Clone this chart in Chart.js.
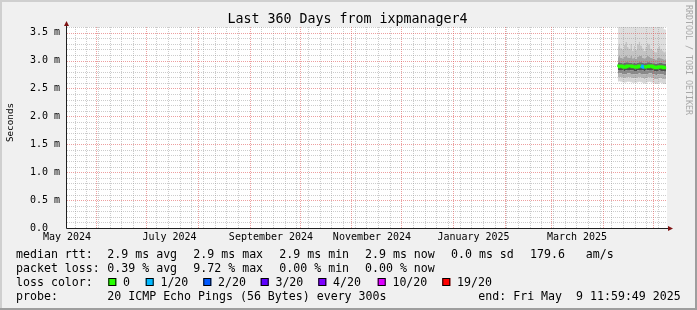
<!DOCTYPE html>
<html>
<head>
<meta charset="utf-8">
<script src="https://cdn.jsdelivr.net/npm/chart.js@4.4.1/dist/chart.umd.min.js"></script>
<style>
  html, body { margin: 0; padding: 0; background: #f0f0f0; }
  canvas { display: block; }
</style>
</head>
<body>
<canvas id="smoke" width="697" height="310"></canvas>
<script>
'use strict';

// x axis is "days since graph start" (Tue May 14 2024 11:59:49), 360 days wide
const START = Date.UTC(2024, 4, 14, 11, 59, 49);
const DAY = 86400000;
const SPAN_DAYS = 360;

const title = 'Last 360 Days from ixpmanager4';
const xLabelDays = [0, 61.5, 122.4, 183, 243.9, 306];
const xLabels = ['May 2024', 'July 2024', 'September 2024', 'November 2024', 'January 2025', 'March 2025'];
const yTicks = [0, 0.5, 1, 1.5, 2, 2.5, 3, 3.5];

// one bucket per day, centre of bucket (days since start)
const smokeDays = [330.5, 331.5, 332.5, 333.5, 334.5, 335.5, 336.5, 337.5, 338.5, 339.5,
  340.5, 341.5, 342.5, 343.5, 344.5, 345.5, 346.5, 347.5, 348.5, 349.5,
  350.5, 351.5, 352.5, 353.5, 354.5, 355.5, 356.5, 357.5, 358.5, 359.5];

// ping rtt percentiles, ms
const pingMax = [3.75, 3.80, 3.72, 3.70, 3.78, 3.82, 3.74, 3.71, 3.79, 3.69, 3.76, 3.70, 3.78, 3.83, 3.77,
  3.72, 3.68, 3.75, 3.80, 3.78, 3.71, 3.69, 3.66, 3.65, 3.72, 3.74, 3.68, 3.64, 3.56, 3.55];
const pingHi3 = [3.25, 3.30, 3.22, 3.20, 3.28, 3.33, 3.24, 3.21, 3.30, 3.18, 3.26, 3.19, 3.29, 3.34, 3.27,
  3.22, 3.17, 3.25, 3.31, 3.28, 3.21, 3.19, 3.16, 3.15, 3.22, 3.26, 3.20, 3.18, 3.15, 3.17];
const pingHi2 = [3.06, 3.08, 3.05, 3.04, 3.07, 3.09, 3.06, 3.05, 3.08, 3.04, 3.06, 3.03, 3.07, 3.09, 3.08,
  3.05, 3.04, 3.06, 3.08, 3.07, 3.05, 3.04, 3.03, 3.02, 3.05, 3.06, 3.04, 3.03, 3.02, 3.03];
const pingHi1 = [2.96, 2.97, 2.96, 2.95, 2.96, 2.97, 2.97, 2.96, 2.96, 2.95, 2.96, 2.95, 2.96, 2.97, 2.97,
  2.96, 2.95, 2.96, 2.97, 2.97, 2.96, 2.95, 2.95, 2.94, 2.95, 2.96, 2.96, 2.95, 2.94, 2.94];
const median = [2.89, 2.90, 2.90, 2.89, 2.88, 2.89, 2.90, 2.90, 2.90, 2.89, 2.89, 2.88, 2.89, 2.90, 2.90,
  2.89, 2.88, 2.89, 2.89, 2.90, 2.90, 2.89, 2.88, 2.87, 2.88, 2.89, 2.89, 2.88, 2.87, 2.87];
const pingLo1 = [2.82, 2.83, 2.83, 2.82, 2.81, 2.82, 2.83, 2.83, 2.82, 2.82, 2.81, 2.81, 2.82, 2.83, 2.83,
  2.82, 2.81, 2.82, 2.82, 2.83, 2.83, 2.82, 2.81, 2.80, 2.81, 2.82, 2.81, 2.81, 2.80, 2.80];
const pingLo2 = [2.76, 2.77, 2.77, 2.76, 2.75, 2.76, 2.77, 2.77, 2.76, 2.76, 2.75, 2.75, 2.76, 2.77, 2.76,
  2.76, 2.75, 2.76, 2.76, 2.77, 2.77, 2.76, 2.75, 2.74, 2.75, 2.76, 2.75, 2.75, 2.74, 2.74];
const pingLo3 = [2.69, 2.70, 2.70, 2.69, 2.68, 2.69, 2.70, 2.70, 2.69, 2.68, 2.68, 2.68, 2.69, 2.70, 2.69,
  2.68, 2.67, 2.68, 2.69, 2.70, 2.69, 2.68, 2.67, 2.66, 2.67, 2.68, 2.68, 2.67, 2.66, 2.66];
const pingMin = [2.62, 2.63, 2.62, 2.61, 2.60, 2.61, 2.62, 2.62, 2.61, 2.60, 2.60, 2.60, 2.61, 2.62, 2.61,
  2.60, 2.59, 2.60, 2.61, 2.62, 2.61, 2.60, 2.59, 2.58, 2.59, 2.60, 2.60, 2.59, 2.58, 2.58];
// lost pings out of 20 per bucket
const lossCount = [0, 0, 0, 0, 0, 0, 0, 0, 0, 0, 0, 0, 0, 0, 1, 1, 0, 0, 0, 0, 0, 0, 0, 0, 0, 0, 0, 0, 0, 0];

const lossSteps = ['0', '1/20', '2/20', '3/20', '4/20', '10/20', '19/20'];
const lossLimits = [0, 1, 2, 3, 4, 10, 19];
const lossColors = ['#26ff00', '#00b8ff', '#0059ff', '#5e00ff', '#7e00ff', '#dd00ff', '#ff0000'];

const rttStats = ['2.9 ms avg', '2.9 ms max', '2.9 ms min', '2.9 ms now', '0.0 ms sd', '179.6   am/s'];
const lossStats = ['0.39 % avg', '9.72 % max', '0.00 % min', '0.00 % now'];
const probeText = '20 ICMP Echo Pings (56 Bytes) every 300s';
const endText = 'end: Fri May  9 11:59:49 2025';

// grey shades from the outer smoke band inwards
const shadeLow = ['#d6d6d6', '#b4b4b4', '#888888', '#505050'];
const shadeHigh = ['#dedede', '#c4c4c4', '#a2a2a2', '#6a6a6a'];

const MONO = '"DejaVu Sans Mono", monospace';

function pts(arr) { return arr.map((v, i) => ({ x: smokeDays[i], y: v })); }
function lossColor(n) {
  let c = lossColors[0];
  lossLimits.forEach((l, i) => { if (n >= l) c = lossColors[i]; });
  return c;
}
function band(arr, color) {
  return { data: pts(arr), fill: '-1', backgroundColor: color, borderWidth: 0, pointRadius: 0, stepped: 'middle' };
}
function dayOf(y, m, d) { return (Date.UTC(y, m, d) - START) / DAY; }

const rrdFrame = {
  id: 'rrdFrame',
  beforeDraw(chart) {
    const { ctx, chartArea: a, width, height } = chart;
    ctx.save();
    ctx.fillStyle = '#f0f0f0';
    ctx.fillRect(0, 0, width, height);
    ctx.fillStyle = '#cfcfcf';
    ctx.fillRect(0, 0, width, 2);
    ctx.fillRect(0, 0, 2, height);
    ctx.fillStyle = '#9e9e9e';
    ctx.fillRect(width - 2, 0, 2, height);
    ctx.fillRect(0, height - 2, width, 2);
    ctx.fillStyle = '#ffffff';
    ctx.fillRect(a.left, a.top, a.right - a.left, a.bottom - a.top);
    ctx.restore();
  },
  beforeDatasetsDraw(chart) {
    // grid sits between the smoke and the median line
    const { ctx, chartArea: a, scales: { x, y } } = chart;
    const months = [];
    for (let k = 0; k < 13; k++) months.push(dayOf(2024, 5 + k, 1));
    const weeks = [];
    for (let d = dayOf(2024, 4, 19); d <= SPAN_DAYS; d += 7) weeks.push(d);
    ctx.save();
    ctx.lineWidth = 1;
    ctx.setLineDash([1, 1]);
    const vline = (d, col) => {
      if (d < 0 || d > SPAN_DAYS) return;
      const px = Math.round(x.getPixelForValue(d)) + 0.5;
      ctx.strokeStyle = col;
      ctx.beginPath(); ctx.moveTo(px, a.bottom); ctx.lineTo(px, a.top); ctx.stroke();
    };
    const hline = (v, col) => {
      const py = Math.round(y.getPixelForValue(v)) + 0.5;
      ctx.strokeStyle = col;
      ctx.beginPath(); ctx.moveTo(a.left, py); ctx.lineTo(a.right, py); ctx.stroke();
    };
    const minorCol = 'rgba(143,143,143,0.45)';
    const majorCol = 'rgba(222,80,80,0.55)';
    weeks.forEach(d => { if (!months.some(m => Math.abs(m - d) < 1)) vline(d, minorCol); });
    for (let i = 1; i <= 36; i++) if (i % 5) hline(i / 10, minorCol);
    months.forEach(d => vline(d, majorCol));
    yTicks.forEach(v => { if (v > 0) hline(v, majorCol); });
    ctx.restore();
  },
  afterDraw(chart) {
    const { ctx, chartArea: a, width } = chart;
    ctx.save();
    // axes + arrows
    ctx.strokeStyle = '#202020';
    ctx.lineWidth = 1;
    ctx.beginPath();
    ctx.moveTo(a.left - 0.5, a.bottom + 0.5); ctx.lineTo(a.right + 3, a.bottom + 0.5);
    ctx.moveTo(a.left - 0.5, a.bottom + 0.5); ctx.lineTo(a.left - 0.5, a.top - 3);
    ctx.stroke();
    ctx.fillStyle = '#7f1414';
    ctx.beginPath();
    ctx.moveTo(a.left - 0.5, a.top - 6); ctx.lineTo(a.left - 3, a.top - 1); ctx.lineTo(a.left + 2, a.top - 1);
    ctx.closePath(); ctx.fill();
    ctx.beginPath();
    ctx.moveTo(a.right + 6, a.bottom + 0.5); ctx.lineTo(a.right + 1, a.bottom - 2); ctx.lineTo(a.right + 1, a.bottom + 3);
    ctx.closePath(); ctx.fill();

    ctx.fillStyle = '#000';
    ctx.textBaseline = 'alphabetic';
    ctx.textAlign = 'center';
    ctx.font = '13.3px ' + MONO;
    ctx.fillText(title, 347.5, 22.5);

    // y axis title
    ctx.save();
    ctx.translate(10.5, 122.5);
    ctx.rotate(-Math.PI / 2);
    ctx.font = '9.3px ' + MONO;
    ctx.textBaseline = 'middle';
    ctx.fillText('Seconds', 0, 0);
    ctx.restore();

    // watermark
    ctx.save();
    ctx.translate(width - 9, 5);
    ctx.rotate(Math.PI / 2);
    ctx.font = '8.3px ' + MONO;
    ctx.fillStyle = '#a8a8a8';
    ctx.textAlign = 'left';
    ctx.textBaseline = 'middle';
    ctx.fillText('RRDTOOL / TOBI OETIKER', 0, 0);
    ctx.restore();

    // legend block
    ctx.font = '11.6px ' + MONO;
    ctx.textAlign = 'left';
    const cols = [107.3, 193.3, 279.3, 365, 451, 530];
    const rows = [258.4, 272.2, 286, 299.8];
    ctx.fillText('median rtt:', 16, rows[0]);
    rttStats.forEach((s, i) => ctx.fillText(s, cols[i], rows[0]));
    ctx.fillText('packet loss:', 16, rows[1]);
    lossStats.forEach((s, i) => ctx.fillText(s, cols[i], rows[1]));
    ctx.fillText('loss color:', 16, rows[2]);
    const boxX = [108.3, 145.7, 203.3, 260.7, 318.3, 377.7, 442.3];
    lossSteps.forEach((s, i) => {
      ctx.fillStyle = lossColors[i];
      ctx.fillRect(boxX[i], 278, 8, 8);
      ctx.strokeStyle = '#000';
      ctx.strokeRect(boxX[i] + 0.5, 278.5, 7, 7);
      ctx.fillStyle = '#000';
      ctx.fillText(s, boxX[i] + 14.7, rows[2]);
    });
    ctx.fillText('probe:', 16, rows[3]);
    ctx.fillText(probeText, cols[0], rows[3]);
    ctx.fillText(endText, 478.3, rows[3]);
    ctx.restore();
  }
};

new Chart(document.getElementById('smoke'), {
  type: 'line',
  data: {
    datasets: [
      {
        data: pts(median), fill: false, borderWidth: 3, pointRadius: 0, stepped: 'middle',
        borderColor: lossColors[0], borderCapStyle: 'butt',
        segment: { borderColor: c => lossColor(lossCount[c.p0DataIndex]) }
      },
      { data: pts(pingMin), fill: false, borderWidth: 0, pointRadius: 0, stepped: 'middle' },
      band(pingLo3, shadeLow[0]),
      band(pingLo2, shadeLow[1]),
      band(pingLo1, shadeLow[2]),
      band(median, shadeLow[3]),
      band(pingHi1, shadeHigh[3]),
      band(pingHi2, shadeHigh[2]),
      band(pingHi3, shadeHigh[1]),
      band(pingMax, shadeHigh[0])
    ]
  },
  options: {
    responsive: false,
    animation: false,
    devicePixelRatio: 1,
    events: [],
    layout: { padding: { left: 0, right: 30, top: 27, bottom: 0 } },
    plugins: {
      legend: { display: false },
      tooltip: { enabled: false },
      title: { display: false },
      filler: { propagate: false, drawTime: 'beforeDatasetsDraw' }
    },
    scales: {
      x: {
        type: 'linear', min: 0, max: SPAN_DAYS,
        grid: { display: false, drawTicks: false }, border: { display: false },
        afterBuildTicks: s => { s.ticks = xLabelDays.map(v => ({ value: v })); },
        afterFit: s => { s.height = 82; },
        ticks: {
          autoSkip: false, maxRotation: 0, minRotation: 0, padding: 3,
          color: '#000', font: { family: MONO, size: 10 },
          callback: (v, i) => xLabels[i]
        }
      },
      y: {
        type: 'linear', min: 0, max: 3.6,
        grid: { display: false, drawTicks: false }, border: { display: false },
        afterBuildTicks: s => { s.ticks = yTicks.map(v => ({ value: v })); },
        afterFit: s => { s.width = 67; },
        ticks: {
          padding: 7, color: '#000', font: { family: MONO, size: 10 },
          callback: v => (v === 0 ? '0.0  ' : v.toFixed(1) + ' m')
        }
      }
    }
  },
  plugins: [rrdFrame]
});
</script>
</body>
</html>
